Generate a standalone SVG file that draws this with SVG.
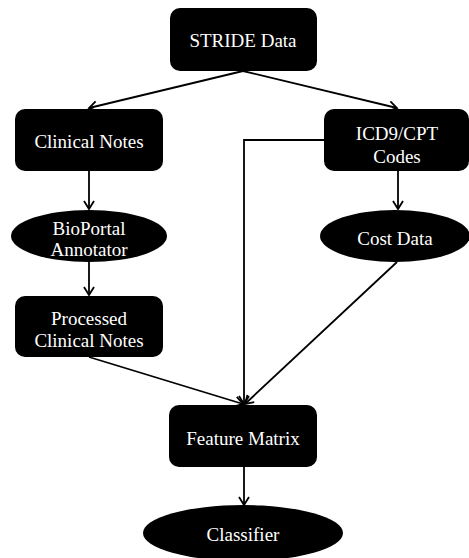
<svg xmlns="http://www.w3.org/2000/svg" width="469" height="558" viewBox="0 0 469 558">
<defs>
<style>
.n{fill:#000}
.t{fill:#fff;font-family:"Liberation Serif","Times New Roman",serif;font-size:19px;text-anchor:middle}
.c{stroke:#000;stroke-width:1.8;fill:none}
</style>
<marker id="ah" markerWidth="12" markerHeight="12" refX="10" refY="6" orient="auto" markerUnits="userSpaceOnUse">
<path d="M2,1 L10,6 L2,11" fill="none" stroke="#000" stroke-width="1.8"/>
</marker>
</defs>
<rect width="469" height="558" fill="#fff"/>
<g id="connectors">
<line class="c" x1="243" y1="71" x2="89" y2="108" marker-end="url(#ah)"/>
<line class="c" x1="243" y1="71" x2="397" y2="108" marker-end="url(#ah)"/>
<line class="c" x1="89" y1="171" x2="89" y2="209" marker-end="url(#ah)"/>
<line class="c" x1="89" y1="262" x2="89" y2="295" marker-end="url(#ah)"/>
<line class="c" x1="398" y1="171" x2="398" y2="209" marker-end="url(#ah)"/>
<polyline class="c" points="325,140 244,140 244,404" marker-end="url(#ah)"/>
<line class="c" x1="89" y1="357" x2="243" y2="404" marker-end="url(#ah)"/>
<line class="c" x1="397" y1="262" x2="245" y2="404" marker-end="url(#ah)"/>
<line class="c" x1="244" y1="467" x2="244" y2="505" marker-end="url(#ah)"/>
</g>
<g id="stride">
<rect class="n" x="170" y="8" width="147" height="63" rx="10"/>
<text class="t" x="243" y="47">STRIDE Data</text>
</g>
<g id="clinical">
<rect class="n" x="15" y="109" width="148" height="62" rx="10"/>
<text class="t" x="89" y="148">Clinical Notes</text>
</g>
<g id="icd9">
<rect class="n" x="324" y="109" width="145" height="62" rx="10"/>
<text class="t" x="397" y="140">ICD9/CPT</text>
<text class="t" x="397" y="163">Codes</text>
</g>
<g id="bioportal">
<ellipse class="n" cx="89" cy="236" rx="78" ry="26"/>
<text class="t" x="89" y="235">BioPortal</text>
<text class="t" x="89" y="256">Annotator</text>
</g>
<g id="cost">
<ellipse class="n" cx="395" cy="236" rx="75" ry="26"/>
<text class="t" x="395" y="245">Cost Data</text>
</g>
<g id="processed">
<rect class="n" x="15" y="296" width="148" height="61" rx="10"/>
<text class="t" x="89" y="325">Processed</text>
<text class="t" x="89" y="347">Clinical Notes</text>
</g>
<g id="feature">
<rect class="n" x="169" y="405" width="148" height="62" rx="10"/>
<text class="t" x="243" y="445">Feature Matrix</text>
</g>
<g id="classifier">
<ellipse class="n" cx="243" cy="533" rx="100" ry="28"/>
<text class="t" x="243" y="541">Classifier</text>
</g>
</svg>
